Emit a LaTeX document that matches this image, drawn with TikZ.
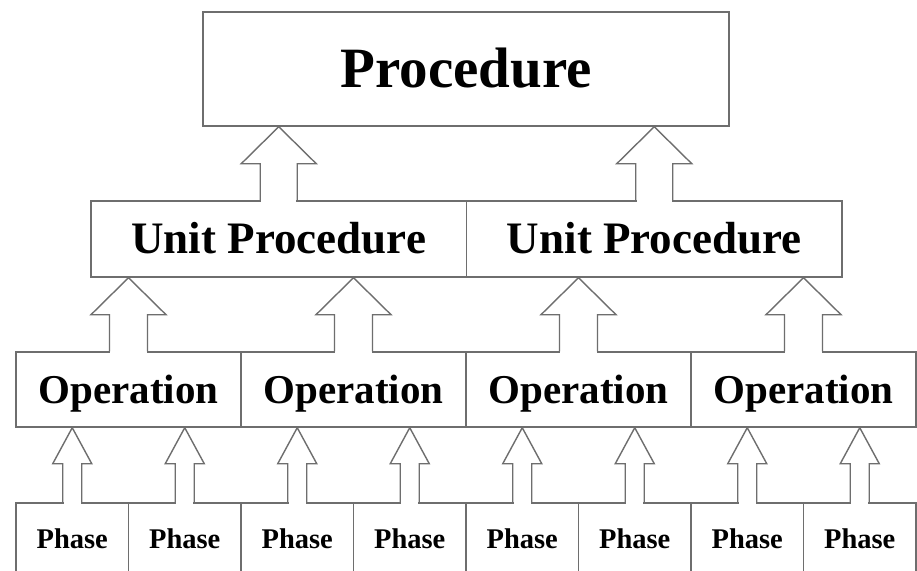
\documentclass[tikz,border=0pt]{standalone}
\usepackage{fontspec}
\setmainfont{Liberation Serif}
\usetikzlibrary{calc}
\definecolor{linegray}{HTML}{6E6E6E}
\tikzset{
  boxbase/.style={draw=linegray, line width=1.4pt, rectangle, inner sep=0pt, text=black, text depth=0pt},
  procbox/.style={boxbase, minimum width=526pt, minimum height=114pt, font=\bfseries\fontsize{57}{60}\selectfont, text height=37.7pt},
  unitbox/.style={boxbase, minimum width=375.5pt, minimum height=76pt, font=\bfseries\fontsize{45}{48}\selectfont, text height=29.8pt},
  opbox/.style={boxbase, minimum width=225pt, minimum height=75pt, font=\bfseries\fontsize{41}{44}\selectfont, text height=27pt},
  phbox/.style={boxbase, minimum width=112.5pt, minimum height=72pt, font=\bfseries\fontsize{28.5}{30}\selectfont, text height=18.9pt},
  arrline/.style={draw=linegray, line width=1.4pt, line join=miter},
}
% #1 lower node, #2 upper node, #3 shaft half width, #4 head half width, #5 head length
\newcommand{\blockarr}[5]{%
  \fill[white] let \p1=(#1.north) in
    ($(\x1-#3pt+0.8pt,\y1+1.2pt)$) rectangle ($(\x1+#3pt-0.8pt,\y1-1.2pt)$);
  \draw[arrline] let \p1=(#1.north), \p2=(#2.south) in
    (\x1-#3pt,\y1) -- (\x1-#3pt,\y2-#5pt) -- (\x1-#4pt,\y2-#5pt) -- (\x1,\y2)
    -- (\x1+#4pt,\y2-#5pt) -- (\x1+#3pt,\y2-#5pt) -- (\x1+#3pt,\y1);
}
\begin{document}
\begin{tikzpicture}[x=1pt,y=-1pt]
\useasboundingbox (0,0) rectangle (917,570);
\fill[white] (0,0) rectangle (917,570);
% level 0
\node[procbox] (proc) at (466,69) {Procedure};
% level 1
\node[unitbox] (up1) at (278.75,239) {Unit Procedure};
\node[unitbox] (up2) at (654.25,239) {Unit Procedure};
% level 2
\node[opbox] (op1) at (128.5,389.5) {Operation};
\node[opbox] (op2) at (353.5,389.5) {Operation};
\node[opbox] (op3) at (578.5,389.5) {Operation};
\node[opbox] (op4) at (803.5,389.5) {Operation};
% level 3
\node[phbox] (ph1) at (72.25,539) {Phase};
\node[phbox] (ph2) at (184.75,539) {Phase};
\node[phbox] (ph3) at (297.25,539) {Phase};
\node[phbox] (ph4) at (409.75,539) {Phase};
\node[phbox] (ph5) at (522.25,539) {Phase};
\node[phbox] (ph6) at (634.75,539) {Phase};
\node[phbox] (ph7) at (747.25,539) {Phase};
\node[phbox] (ph8) at (859.75,539) {Phase};
% arrows
\blockarr{up1}{proc}{18.5}{37.5}{37}
\blockarr{up2}{proc}{18.5}{37.5}{37}
\blockarr{op1}{up1}{19}{37.5}{37}
\blockarr{op2}{up1}{19}{37.5}{37}
\blockarr{op3}{up2}{19}{37.5}{37}
\blockarr{op4}{up2}{19}{37.5}{37}
\blockarr{ph1}{op1}{9.5}{19.5}{36}
\blockarr{ph2}{op1}{9.5}{19.5}{36}
\blockarr{ph3}{op2}{9.5}{19.5}{36}
\blockarr{ph4}{op2}{9.5}{19.5}{36}
\blockarr{ph5}{op3}{9.5}{19.5}{36}
\blockarr{ph6}{op3}{9.5}{19.5}{36}
\blockarr{ph7}{op4}{9.5}{19.5}{36}
\blockarr{ph8}{op4}{9.5}{19.5}{36}
\end{tikzpicture}
\end{document}
